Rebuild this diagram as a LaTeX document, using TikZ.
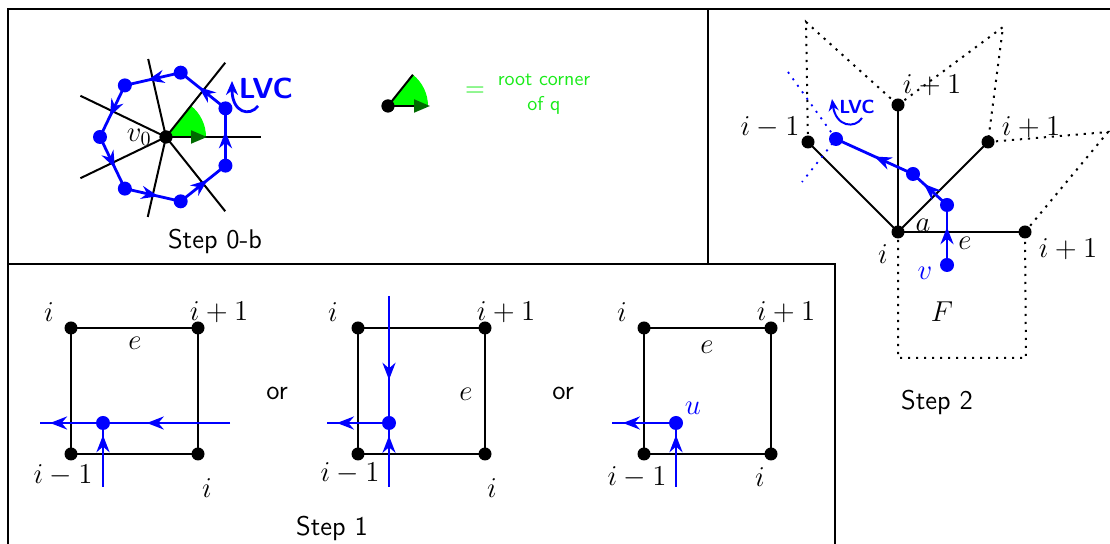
\documentclass[tikz,border=0pt]{standalone}
\usepackage{tikz}
\usetikzlibrary{arrows.meta}
\usetikzlibrary{decorations.markings}
\usetikzlibrary{positioning}
\definecolor{darkgreen}{rgb}{0,0.42,0}
\definecolor{rootgreen}{rgb}{0.1,0.92,0.1}
\tikzset{
vtx/.style={circle, fill=black, inner sep=0pt, minimum size=6.5pt},
bdot/.style={circle, fill=blue, inner sep=0pt, minimum size=7pt},
edge/.style={line width=1pt},
walk/.style={blue, line width=1.4pt},
face/.style={line width=1pt, dash pattern=on 1.1pt off 2.9pt},
lbl/.style={inner sep=0pt, font=\fontsize{14.5}{16}\selectfont},
caption/.style={inner sep=0pt, font=\sffamily\fontsize{13.5}{16}\selectfont},
lvc/.style={inner sep=0pt, text=blue, font=\sffamily\bfseries\fontsize{#1}{#1}\selectfont},
arrowat/.style={postaction={decorate, decoration={markings, mark=at position #1 with {\arrow{Stealth[length=8.5pt,width=6.5pt]}}}}}
}
\begin{document}
\begin{tikzpicture}[x=0.5pt, y=-0.5pt]
    \useasboundingbox (0,0) rectangle (1110,544);
    % frames
    \draw[line width=1.2pt] (8,560) -- (8,9) -- (1120,9);
    \draw[line width=1.2pt] (708,9) -- (708,264);
    \draw[line width=1.2pt] (8,264) -- (835,264) -- (835,560);

    % Step 0-b
    \node[vtx] (v0) at (166,137) {};
    \fill[green] (v0.center) -- ++(40,0) arc[start angle=0, end angle=-51.43, radius=40] -- cycle;
    \foreach \k/\r in {0/95,1/95,2/80,3/95,4/95,5/82,6/95}
        \draw[edge] (v0.center) -- ++({-\k*360/7}:\r);
    \foreach \k in {0,...,6}
        \path (v0.center) ++({-(\k+0.5)*360/7}:66) node[bdot] (p\k) {};
    \foreach \k [evaluate=\k as \n using {int(mod(\k+1,7))}] in {0,...,6}
        \draw[walk, arrowat=0.6] (p\k.center) -- (p\n.center);
    \node[vtx] at (v0) {};
    \draw[edge, -{Triangle[length=8pt,width=6.5pt,color=darkgreen]}] (v0.center) -- ++(41,0);
    \node[lbl, anchor=east] (v0lbl) at (152,137) {$v_0$};
    \node[lvc=14.5] (lvc1) at (266,88) {LVC};
    \draw[walk, -{Stealth[length=7pt,width=6pt]}] (258,106) .. controls (250,117) and (232,113) .. (232,81);
    \node[caption] (step0) at (215,241) {Step 0-b};

    % legend
    \node[vtx] (r0) at (388,106) {};
    \fill[green] (r0.center) -- ++(40,0) arc[start angle=0, end angle=-51.43, radius=40] -- cycle;
    \draw[edge] (r0.center) -- ++(-51.43:40);
    \draw[edge, -{Triangle[length=8pt,width=6.5pt,color=darkgreen]}] (r0.center) -- ++(42,0);
    \node[vtx] at (r0) {};
    \node[inner sep=0pt, text=rootgreen, font=\sffamily\fontsize{13}{13}\selectfont] (eq) at (475,92) {=};
    \node[inner sep=0pt, text=rootgreen, align=center, font=\sffamily\fontsize{10}{12.5}\selectfont] (root) at (544,94) {root corner\\of q};

    % Step 1, first case
    \node[vtx] (a1) at (71,328) {};
    \node[vtx] (b1) at (198,328) {};
    \node[vtx] (c1) at (198,454) {};
    \node[vtx] (d1) at (71,454) {};
    \draw[edge] (a1.center) -- (b1.center) -- (c1.center) -- (d1.center) -- cycle;
    \node[lbl] at (49,312) {$i$};
    \node[lbl] at (219,312) {$i+1$};
    \node[lbl] at (135,343) {$e$};
    \node[lbl] at (63,475) {$i-1$};
    \node[lbl] at (207,488) {$i$};
    \coordinate (in1) at (230,423);
    \coordinate (out1) at (40,423);
    \coordinate (up1) at (103,487);
    \node[bdot] (u1) at (103,423) {};
    \draw[walk, arrowat=0.438, arrowat=0.947] (in1) -- (out1);
    \draw[walk, arrowat=0.81] (up1) -- (u1.center);
    \node[caption] (or1) at (277,393) {or};

    % Step 1, second case
    \node[vtx] (a2) at (358,328) {};
    \node[vtx] (b2) at (485,328) {};
    \node[vtx] (c2) at (485,454) {};
    \node[vtx] (d2) at (358,454) {};
    \draw[edge] (a2.center) -- (b2.center) -- (c2.center) -- (d2.center) -- cycle;
    \node[lbl] at (333,312) {$i$};
    \node[lbl] at (506,312) {$i+1$};
    \node[lbl] at (466,394) {$e$};
    \node[lbl] at (350,473) {$i-1$};
    \node[lbl] at (492,488) {$i$};
    \coordinate (in2) at (389,296);
    \coordinate (out2) at (327,423);
    \coordinate (up2) at (389,487);
    \node[bdot] (u2) at (389,423) {};
    \draw[walk, arrowat=0.66] (in2) -- (u2.center);
    \draw[walk, arrowat=0.84] (u2.center) -- (out2);
    \draw[walk, arrowat=0.8] (up2) -- (u2.center);
    \node[caption] (or2) at (563,393) {or};

    % Step 1, third case
    \node[vtx] (a3) at (644,328) {};
    \node[vtx] (b3) at (771,328) {};
    \node[vtx] (c3) at (771,454) {};
    \node[vtx] (d3) at (644,454) {};
    \draw[edge] (a3.center) -- (b3.center) -- (c3.center) -- (d3.center) -- cycle;
    \node[lbl] at (622,312) {$i$};
    \node[lbl] at (786,312) {$i+1$};
    \node[lbl] at (707,347) {$e$};
    \node[lbl] at (637,477) {$i-1$};
    \node[lbl] at (760,477) {$i$};
    \coordinate (out3) at (612,423);
    \coordinate (up3) at (676,487);
    \node[bdot] (u3) at (676,423) {};
    \node[lbl, text=blue] at (693,408) {$u$};
    \draw[walk, arrowat=0.83] (u3.center) -- (out3);
    \draw[walk, arrowat=0.81] (up3) -- (u3.center);
    \node[caption] (step1) at (332,528) {Step 1};

    % Step 2
    \node[vtx] (ci) at (898,232) {};
    \node[vtx] (top) at (898,105) {};
    \node[vtx] (lft) at (808,142) {};
    \node[vtx] (rup) at (988,142) {};
    \node[vtx] (rgt) at (1025,232) {};
    \coordinate (f1) at (806,22);
    \coordinate (f2) at (1003,27);
    \coordinate (f3) at (1108,132);
    \coordinate (fb1) at (898,358);
    \coordinate (fb2) at (1026,358);
    \draw[face] (lft.center) -- (f1) -- (top.center);
    \draw[face] (top.center) -- (f2) -- (rup.center);
    \draw[face] (rup.center) -- (f3) -- (rgt.center);
    \draw[face] (ci.center) -- (fb1) -- (fb2) -- (rgt.center);
    \foreach \n in {top,lft,rup,rgt}
        \draw[edge] (ci.center) -- (\n.center);
    \node[lbl] at (932,85) {$i+1$};
    \node[lbl] at (770,127) {$i-1$};
    \node[lbl] at (1031,127) {$i+1$};
    \node[lbl] at (1068,249) {$i+1$};
    \node[lbl] at (883,254) {$i$};
    \node[lbl] at (923,225) {$a$};
    \node[lbl] at (965,243) {$e$};
    \node[lbl] at (942,312) {$F$};
    \node[bdot] (v) at (947,265) {};
    \node[bdot] (w1) at (947,205) {};
    \node[bdot] (w2) at (913,174) {};
    \node[bdot] (w3) at (836,139) {};
    \coordinate (bd1) at (788,72);
    \coordinate (bd2) at (802,182);
    \draw[blue, line width=0.9pt, dash pattern=on 1pt off 3pt] (bd1) -- (w3.center) -- (bd2);
    \draw[walk, arrowat=0.63] (v.center) -- (w1.center);
    \draw[walk, arrowat=0.68] (w1.center) -- (w2.center);
    \draw[walk, arrowat=0.5] (w2.center) -- (w3.center);
    \node[lbl, text=blue] at (925,273) {$v$};
    \node[lvc=9.5] (lvc2) at (857,107) {LVC};
    \draw[blue, line width=1pt, -{Stealth[length=6pt,width=5pt]}] (862,118) .. controls (855,129) and (836,127) .. (832,99);
    \node[caption] (step2) at (937,402) {Step 2};
\end{tikzpicture}
\end{document}
